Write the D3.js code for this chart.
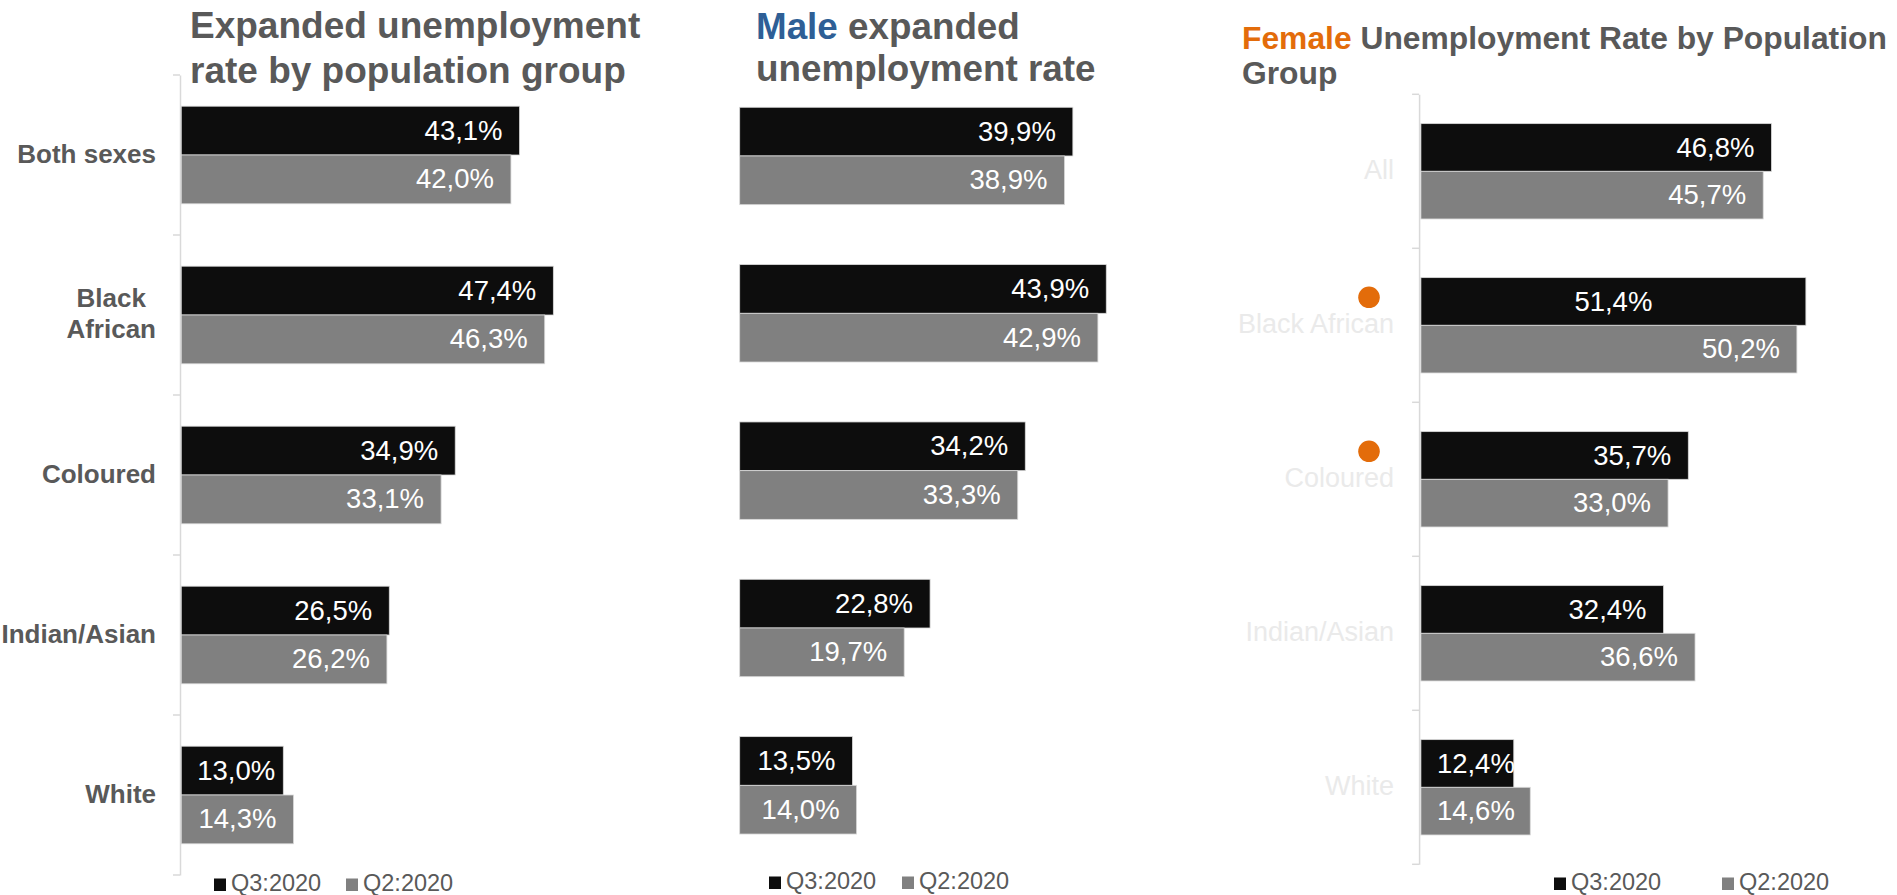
<!DOCTYPE html>
<html>
<head>
<meta charset="utf-8">
<script src="https://cdn.jsdelivr.net/npm/d3@7"></script>
<style>
  html, body { margin: 0; padding: 0; background: #ffffff; }
  svg { display: block; font-family: "Liberation Sans", Arial, sans-serif; }
</style>
</head>
<body>
<svg id="chart" width="1897" height="895"></svg>
<script>
// ---- data ----
const categoriesAll = ["Both sexes", "Black African", "Coloured", "Indian/Asian", "White"];
const categoriesFemale = ["All", "Black African", "Coloured", "Indian/Asian", "White"];
const seriesNames = ["Q3:2020", "Q2:2020"];

const overallQ3 = [43.1, 47.4, 34.9, 26.5, 13.0];
const overallQ2 = [42.0, 46.3, 33.1, 26.2, 14.3];

const maleQ3 = [39.9, 43.9, 34.2, 22.8, 13.5];
const maleQ2 = [38.9, 42.9, 33.3, 19.7, 14.0];

const femaleQ3 = [46.8, 51.4, 35.7, 32.4, 12.4];
const femaleQ2 = [45.7, 50.2, 33.0, 36.6, 14.6];

const femaleHighlighted = ["Black African", "Coloured"];

// ---- styling ----
const seriesColor = { "Q3:2020": "#0d0d0d", "Q2:2020": "#808080" };
const textGrey = "#595959";
const axisGrey = "#d9d9d9";
const maleBlue = "#2e5f96";
const femaleOrange = "#e36c0a";
const fmt = v => d3.format(".1f")(v).replace(".", ",") + "%";

const svg = d3.select("#chart");

function rows(cats, q3, q2) {
  return cats.map((c, i) => ({ category: c, values: [
    { series: seriesNames[0], value: q3[i] },
    { series: seriesNames[1], value: q2[i] }
  ]}));
}

function drawPanel(opt) {
  const g = svg.append("g").attr("class", "panel-" + opt.id);
  const data = rows(opt.categories, opt.q3, opt.q2);

  const x = d3.scaleLinear().domain([0, 60]).range([opt.x0, opt.x0 + 60 * opt.pxPerPct]);
  const y = d3.scaleBand().domain(opt.categories).range(opt.yRange)
    .paddingInner(opt.padding).paddingOuter(opt.padding / 2);
  const ys = d3.scaleBand().domain(seriesNames).range([0, y.bandwidth()]);

  // category axis
  if (opt.axis) {
    const axis = d3.axisLeft(y).tickSize(0).tickFormat("");
    const ag = g.append("g").attr("transform", `translate(${opt.axisX},0)`).call(axis);
    ag.select(".domain").attr("stroke", axisGrey).attr("stroke-width", 1.5);
    // boundary ticks between categories
    const bounds = opt.categories.map(c => y(c) - y.step() * y.paddingInner() / 2);
    bounds.push(opt.yRange[1]);
    ag.selectAll(".bound").data(bounds).join("line")
      .attr("class", "bound")
      .attr("x1", -7).attr("x2", 0)
      .attr("y1", d => d).attr("y2", d => d)
      .attr("stroke", axisGrey).attr("stroke-width", 1.5);

    // category labels
    data.forEach(d => {
      const cy = y(d.category) + y.bandwidth() / 2;
      const words = opt.wrapLabels && opt.wrapLabels.includes(d.category)
        ? d.category.split(" ") : [d.category];
      const t = g.append("text")
        .attr("fill", opt.labelColor)
        .attr("font-size", opt.labelSize)
        .attr("font-weight", opt.labelWeight);
      if (words.length === 1) {
        t.attr("x", opt.labelRight).attr("y", cy).attr("dy", "0.3em")
          .attr("text-anchor", "end").text(d.category);
      } else {
        const lh = opt.labelSize * 1.2;
        const spans = words.map((w, i) => t.append("tspan").text(w)
          .attr("y", cy + (i - (words.length - 1) / 2) * lh).attr("dy", "0.3em"));
        const widest = d3.max(spans, s => s.node().getComputedTextLength());
        const cx = opt.labelRight - widest / 2;
        spans.forEach(s => s.attr("x", cx));
        t.attr("text-anchor", "middle");
      }
    });
  }

  // bars
  const groups = g.selectAll(".cat").data(data).join("g")
    .attr("class", "cat")
    .attr("transform", d => `translate(0,${y(d.category)})`);

  groups.selectAll("rect").data(d => d.values).join("rect")
    .attr("x", x(0))
    .attr("y", d => ys(d.series))
    .attr("width", d => x(d.value) - x(0))
    .attr("height", ys.bandwidth())
    .attr("fill", d => seriesColor[d.series])
    .attr("stroke", "#d9d9d9")
    .attr("stroke-width", 0.8);

  // value labels, set inside the bar end (or from the bar start when the bar is short)
  groups.each(function (d) {
    const cg = d3.select(this);
    d.values.forEach(v => {
      const t = cg.append("text")
        .attr("y", ys(v.series) + ys.bandwidth() / 2)
        .attr("dy", "0.33em")
        .attr("fill", "#ffffff")
        .attr("font-size", opt.valueSize)
        .attr("text-anchor", "start")
        .text(fmt(v.value));
      const w = t.node().getComputedTextLength();
      const centred = (opt.centredLabels || []).some(c => c.category === d.category && c.series === v.series);
      let xs;
      if (centred) {
        xs = (x(0) + x(v.value)) / 2 - w / 2;
      } else {
        xs = x(v.value) - 17 - w;
        if (xs < x(0) + 16) xs = x(0) + 16;
      }
      t.attr("x", xs);
    });
  });

  // highlight markers
  if (opt.highlighted) {
    g.selectAll(".mark").data(opt.highlighted).join("circle")
      .attr("class", "mark")
      .attr("cx", opt.markX)
      .attr("cy", c => y(c) + y.bandwidth() / 2 - 28)
      .attr("r", 10.8)
      .attr("fill", femaleOrange);
  }

  // title
  opt.title.forEach((line, i) => {
    const t = g.append("text")
      .attr("x", opt.titleX)
      .attr("y", opt.titleY[i])
      .attr("font-size", opt.titleSize)
      .attr("font-weight", "bold")
      .attr("fill", textGrey);
    line.forEach(part => t.append("tspan").attr("fill", part.color || textGrey).text(part.text));
  });

  // legend
  const lg = g.append("g");
  seriesNames.forEach((s, i) => {
    lg.append("rect")
      .attr("x", opt.legendX[i]).attr("y", opt.legendY - 12.5)
      .attr("width", 12).attr("height", 12.5)
      .attr("fill", seriesColor[s]);
    lg.append("text")
      .attr("x", opt.legendX[i] + 17).attr("y", opt.legendY)
      .attr("font-size", 23.5).attr("fill", textGrey)
      .text(s);
  });
}

drawPanel({
  id: "all",
  categories: categoriesAll, q3: overallQ3, q2: overallQ2,
  x0: 181.25, pxPerPct: 7.85,
  yRange: [75, 875], padding: 0.39,
  axis: true, axisX: 180,
  labelRight: 156, labelSize: 26, labelWeight: "bold", labelColor: textGrey,
  wrapLabels: ["Black African"],
  valueSize: 27.5,
  title: [[{ text: "Expanded unemployment" }], [{ text: "rate by population group" }]],
  titleX: 190, titleY: [38, 82.5], titleSize: 37,
  legendX: [214, 346], legendY: 891
});

drawPanel({
  id: "male",
  categories: categoriesAll, q3: maleQ3, q2: maleQ2,
  x0: 739.7, pxPerPct: 8.35,
  yRange: [77.3, 864], padding: 0.381,
  axis: false,
  valueSize: 27.5,
  title: [[{ text: "Male", color: maleBlue }, { text: " expanded" }], [{ text: "unemployment rate" }]],
  titleX: 756, titleY: [38.5, 81], titleSize: 36.8,
  legendX: [769, 902], legendY: 889
});

drawPanel({
  id: "female",
  categories: categoriesFemale, q3: femaleQ3, q2: femaleQ2,
  x0: 1420.9, pxPerPct: 7.49,
  yRange: [94.3, 864.3], padding: 0.381,
  axis: true, axisX: 1419.1,
  labelRight: 1394, labelSize: 27, labelWeight: "normal", labelColor: "#eaeaea",
  valueSize: 27.5,
  centredLabels: [{ category: "Black African", series: "Q3:2020" }],
  highlighted: femaleHighlighted, markX: 1369,
  title: [[{ text: "Female", color: femaleOrange }, { text: " Unemployment Rate by Population" }], [{ text: "Group" }]],
  titleX: 1242, titleY: [48.5, 83.5], titleSize: 31.8,
  legendX: [1554, 1722], legendY: 890
});
</script>
</body>
</html>
